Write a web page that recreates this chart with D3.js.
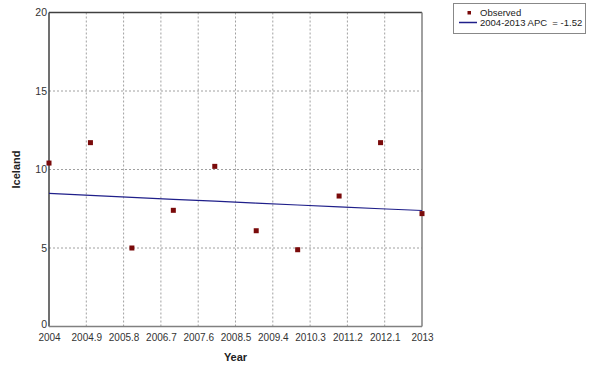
<!DOCTYPE html>
<html><head><meta charset="utf-8">
<script src="https://cdn.jsdelivr.net/npm/d3@7"></script>
<style>body{margin:0;background:#fff}svg{display:block}text{font-family:"Liberation Sans",Arial,sans-serif}</style>
</head><body>
<script>
const years = [2004,2005,2006,2007,2008,2009,2010,2011,2012,2013];
const observed = [10.41,11.71,5.0,7.4,10.2,6.1,4.89,8.31,11.71,7.19];
const fitted = [8.48,8.35,8.22,8.10,7.98,7.86,7.74,7.62,7.50,7.39];
const xTicks = [2004,2004.9,2005.8,2006.7,2007.6,2008.5,2009.4,2010.3,2011.2,2012.1,2013];
const yTicks = [0,5,10,15,20];
const legendLabels = ["Observed","2004-2013 APC  = -1.52"];

const W=593,H=372;
const svg=d3.select("body").append("svg").attr("width",W).attr("height",H);
const x=d3.scaleLinear().domain([2004,2013]).range([49,422]);
const y=d3.scaleLinear().domain([0,20]).range([326.5,12.5]);

// grid
svg.append("g").selectAll("line").data(xTicks.slice(1,-1)).join("line")
  .attr("x1",d=>x(d)).attr("x2",d=>x(d)).attr("y1",y(20)).attr("y2",y(0))
  .attr("stroke","#a0a0a0").attr("stroke-dasharray","2,2").attr("stroke-width",1);
svg.append("g").selectAll("line").data(yTicks.slice(1,-1)).join("line")
  .attr("x1",x(2004)).attr("x2",x(2013)).attr("y1",d=>y(d)).attr("y2",d=>y(d))
  .attr("stroke","#a0a0a0").attr("stroke-dasharray","2,2").attr("stroke-width",1);

// frame
svg.append("line").attr("x1",x(2004)).attr("x2",x(2013)).attr("y1",y(20)).attr("y2",y(20)).attr("stroke","#404040").attr("stroke-width",1.5);
svg.append("line").attr("x1",x(2004)).attr("x2",x(2004)).attr("y1",y(20)).attr("y2",y(0)).attr("stroke","#404040").attr("stroke-width",1.5);
svg.append("line").attr("x1",x(2004)).attr("x2",x(2013)).attr("y1",y(0)).attr("y2",y(0)).attr("stroke","#808080").attr("stroke-width",1.5);
svg.append("line").attr("x1",x(2013)).attr("x2",x(2013)).attr("y1",y(20)).attr("y2",y(0)).attr("stroke","#808080").attr("stroke-width",1.5);

// axes via d3
const yAxis=d3.axisLeft(y).tickValues(yTicks).tickSize(0).tickPadding(2).tickFormat(d3.format("d"));
const gy=svg.append("g").attr("transform",`translate(${x(2004)},0)`).call(yAxis);
gy.select(".domain").remove();
gy.selectAll("text").attr("fill","#333").style("font-size","10.5px");
gy.selectAll(".tick").filter(d=>d===0).select("text").attr("dy","0.1em");
const xAxis=d3.axisBottom(x).tickValues(xTicks).tickSize(0).tickPadding(7).tickFormat(d=>String(+d.toFixed(1)));
const gx=svg.append("g").attr("transform",`translate(0,${y(0)})`).call(xAxis);
gx.select(".domain").remove();
gx.selectAll("text").attr("fill","#333").style("font-size","10px");

// axis titles
svg.append("text").attr("x",(x(2004)+x(2013))/2).attr("y",361).attr("text-anchor","middle")
  .style("font-size","11px").style("font-weight","bold").attr("fill","#222").text("Year");
svg.append("text").attr("transform",`translate(20,${(y(0)+y(20))/2}) rotate(-90)`).attr("text-anchor","middle")
  .style("font-size","11px").style("font-weight","bold").attr("fill","#222").text("Iceland");

// fitted line
const line=d3.line().x((d,i)=>x(years[i])).y(d=>y(d));
svg.append("path").datum(fitted).attr("d",line).attr("fill","none").attr("stroke","#1f1f8a").attr("stroke-width",1.2);

// points
svg.append("g").selectAll("rect").data(observed).join("rect")
  .attr("x",(d,i)=>x(years[i])-2.5).attr("y",d=>y(d)-2.5).attr("width",5).attr("height",5).attr("fill","#7a0a0a");

// legend
const lg=svg.append("g");
lg.append("rect").attr("x",453.5).attr("y",3.5).attr("width",132).attr("height",30).attr("fill","#fff").attr("stroke","#888");
lg.append("rect").attr("x",467.5).attr("y",11).attr("width",3.5).attr("height",3.5).attr("fill","#7a0a0a");
lg.append("line").attr("x1",459).attr("x2",477).attr("y1",22.5).attr("y2",22.5).attr("stroke","#1f1f8a").attr("stroke-width",1.5);
lg.selectAll("text").data(legendLabels).join("text").attr("x",480).attr("y",(d,i)=>13+i*10).attr("dy","0.35em")
  .style("font-size","9.5px").style("white-space","pre").attr("fill","#222").text(d=>d);
</script>
</body></html>
